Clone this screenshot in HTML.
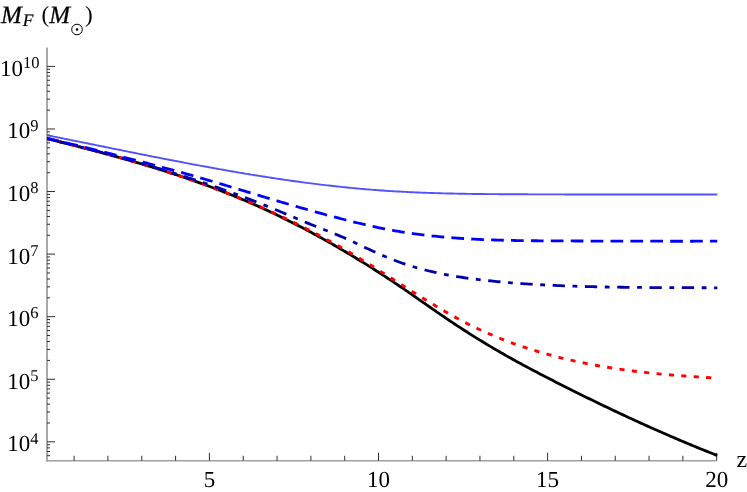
<!DOCTYPE html>
<html lang="en">
<head>
<meta charset="utf-8">
<title>M_F vs z</title>
<style>
html,body{margin:0;padding:0;background:#ffffff;}
body{width:747px;height:492px;overflow:hidden;font-family:"Liberation Serif",serif;}
svg{display:block;position:absolute;left:0;top:0;will-change:transform;}
.t text{font-family:"Liberation Serif",serif;text-rendering:geometricPrecision;}
</style>
</head>
<body>
<svg width="747" height="492" viewBox="0 0 747 492">
<rect x="0" y="0" width="747" height="492" fill="#ffffff"/>
<defs><clipPath id="pc"><rect x="46.40" y="40" width="675.60" height="422.65"/></clipPath></defs>
<g stroke="#a0a0a0" stroke-width="1.8" fill="none">
<line x1="47.0" y1="47.5" x2="47.0" y2="461.4"/>
<line x1="46.1" y1="460.65" x2="716.6" y2="460.65" stroke-width="1.55"/>
</g>
<g stroke="#2e2e2e" stroke-width="1.0" fill="none">
<line x1="74.12" y1="460.65" x2="74.12" y2="455.75"/>
<line x1="107.94" y1="460.65" x2="107.94" y2="455.75"/>
<line x1="141.76" y1="460.65" x2="141.76" y2="455.75"/>
<line x1="175.58" y1="460.65" x2="175.58" y2="455.75"/>
<line x1="209.40" y1="460.65" x2="209.40" y2="452.75"/>
<line x1="243.22" y1="460.65" x2="243.22" y2="455.75"/>
<line x1="277.04" y1="460.65" x2="277.04" y2="455.75"/>
<line x1="310.86" y1="460.65" x2="310.86" y2="455.75"/>
<line x1="344.68" y1="460.65" x2="344.68" y2="455.75"/>
<line x1="378.50" y1="460.65" x2="378.50" y2="452.75"/>
<line x1="412.32" y1="460.65" x2="412.32" y2="455.75"/>
<line x1="446.14" y1="460.65" x2="446.14" y2="455.75"/>
<line x1="479.96" y1="460.65" x2="479.96" y2="455.75"/>
<line x1="513.78" y1="460.65" x2="513.78" y2="455.75"/>
<line x1="547.60" y1="460.65" x2="547.60" y2="452.75"/>
<line x1="581.42" y1="460.65" x2="581.42" y2="455.75"/>
<line x1="615.24" y1="460.65" x2="615.24" y2="455.75"/>
<line x1="649.06" y1="460.65" x2="649.06" y2="455.75"/>
<line x1="682.88" y1="460.65" x2="682.88" y2="455.75"/>
<line x1="716.70" y1="460.65" x2="716.70" y2="452.75"/>
<line x1="47.0" y1="455.70" x2="50.00" y2="455.70"/>
<line x1="47.0" y1="451.51" x2="50.00" y2="451.51"/>
<line x1="47.0" y1="447.88" x2="50.00" y2="447.88"/>
<line x1="47.0" y1="444.68" x2="50.00" y2="444.68"/>
<line x1="47.0" y1="441.82" x2="55.00" y2="441.82"/>
<line x1="47.0" y1="422.98" x2="50.00" y2="422.98"/>
<line x1="47.0" y1="411.97" x2="50.00" y2="411.97"/>
<line x1="47.0" y1="404.15" x2="50.00" y2="404.15"/>
<line x1="47.0" y1="398.09" x2="50.00" y2="398.09"/>
<line x1="47.0" y1="393.13" x2="50.00" y2="393.13"/>
<line x1="47.0" y1="388.94" x2="50.00" y2="388.94"/>
<line x1="47.0" y1="385.31" x2="50.00" y2="385.31"/>
<line x1="47.0" y1="382.11" x2="50.00" y2="382.11"/>
<line x1="47.0" y1="379.25" x2="55.00" y2="379.25"/>
<line x1="47.0" y1="360.41" x2="50.00" y2="360.41"/>
<line x1="47.0" y1="349.40" x2="50.00" y2="349.40"/>
<line x1="47.0" y1="341.58" x2="50.00" y2="341.58"/>
<line x1="47.0" y1="335.52" x2="50.00" y2="335.52"/>
<line x1="47.0" y1="330.56" x2="50.00" y2="330.56"/>
<line x1="47.0" y1="326.37" x2="50.00" y2="326.37"/>
<line x1="47.0" y1="322.74" x2="50.00" y2="322.74"/>
<line x1="47.0" y1="319.54" x2="50.00" y2="319.54"/>
<line x1="47.0" y1="316.68" x2="55.00" y2="316.68"/>
<line x1="47.0" y1="297.84" x2="50.00" y2="297.84"/>
<line x1="47.0" y1="286.83" x2="50.00" y2="286.83"/>
<line x1="47.0" y1="279.01" x2="50.00" y2="279.01"/>
<line x1="47.0" y1="272.95" x2="50.00" y2="272.95"/>
<line x1="47.0" y1="267.99" x2="50.00" y2="267.99"/>
<line x1="47.0" y1="263.80" x2="50.00" y2="263.80"/>
<line x1="47.0" y1="260.17" x2="50.00" y2="260.17"/>
<line x1="47.0" y1="256.97" x2="50.00" y2="256.97"/>
<line x1="47.0" y1="254.11" x2="55.00" y2="254.11"/>
<line x1="47.0" y1="235.27" x2="50.00" y2="235.27"/>
<line x1="47.0" y1="224.26" x2="50.00" y2="224.26"/>
<line x1="47.0" y1="216.44" x2="50.00" y2="216.44"/>
<line x1="47.0" y1="210.38" x2="50.00" y2="210.38"/>
<line x1="47.0" y1="205.42" x2="50.00" y2="205.42"/>
<line x1="47.0" y1="201.23" x2="50.00" y2="201.23"/>
<line x1="47.0" y1="197.60" x2="50.00" y2="197.60"/>
<line x1="47.0" y1="194.40" x2="50.00" y2="194.40"/>
<line x1="47.0" y1="191.54" x2="55.00" y2="191.54"/>
<line x1="47.0" y1="172.70" x2="50.00" y2="172.70"/>
<line x1="47.0" y1="161.69" x2="50.00" y2="161.69"/>
<line x1="47.0" y1="153.87" x2="50.00" y2="153.87"/>
<line x1="47.0" y1="147.81" x2="50.00" y2="147.81"/>
<line x1="47.0" y1="142.85" x2="50.00" y2="142.85"/>
<line x1="47.0" y1="138.66" x2="50.00" y2="138.66"/>
<line x1="47.0" y1="135.03" x2="50.00" y2="135.03"/>
<line x1="47.0" y1="131.83" x2="50.00" y2="131.83"/>
<line x1="47.0" y1="128.97" x2="55.00" y2="128.97"/>
<line x1="47.0" y1="110.13" x2="50.00" y2="110.13"/>
<line x1="47.0" y1="99.12" x2="50.00" y2="99.12"/>
<line x1="47.0" y1="91.30" x2="50.00" y2="91.30"/>
<line x1="47.0" y1="85.24" x2="50.00" y2="85.24"/>
<line x1="47.0" y1="80.28" x2="50.00" y2="80.28"/>
<line x1="47.0" y1="76.09" x2="50.00" y2="76.09"/>
<line x1="47.0" y1="72.46" x2="50.00" y2="72.46"/>
<line x1="47.0" y1="69.26" x2="50.00" y2="69.26"/>
<line x1="47.0" y1="66.40" x2="55.00" y2="66.40"/>
</g>
<g fill="none" stroke-linejoin="round" clip-path="url(#pc)">
<path d="M717.30,455.51 L717.00,455.40 L715.00,454.61 L713.00,453.82 L711.00,453.02 L709.00,452.22 L707.00,451.42 L705.00,450.62 L703.00,449.81 L701.00,449.00 L699.00,448.18 L697.00,447.36 L695.00,446.54 L693.00,445.72 L691.00,444.89 L689.00,444.06 L687.00,443.22 L685.00,442.39 L683.00,441.55 L681.00,440.70 L679.00,439.85 L677.00,439.00 L675.00,438.15 L673.00,437.29 L671.00,436.43 L669.00,435.57 L667.00,434.70 L665.00,433.83 L663.00,432.96 L661.00,432.09 L659.00,431.21 L657.00,430.32 L655.00,429.44 L653.00,428.55 L651.00,427.66 L649.00,426.77 L647.00,425.87 L645.00,424.97 L643.00,424.07 L641.00,423.16 L639.00,422.25 L637.00,421.34 L635.00,420.43 L633.00,419.51 L631.00,418.59 L629.00,417.67 L627.00,416.74 L625.00,415.82 L623.00,414.88 L621.00,413.95 L619.00,413.01 L617.00,412.07 L615.00,411.13 L613.00,410.19 L611.00,409.24 L609.00,408.29 L607.00,407.33 L605.00,406.38 L603.00,405.42 L601.00,404.46 L599.00,403.49 L597.00,402.53 L595.00,401.56 L593.00,400.59 L591.00,399.61 L589.00,398.63 L587.00,397.65 L585.00,396.67 L583.00,395.69 L581.00,394.70 L579.00,393.71 L577.00,392.72 L575.00,391.72 L573.00,390.73 L571.00,389.73 L569.00,388.72 L567.00,387.72 L565.00,386.71 L563.00,385.70 L561.00,384.69 L559.00,383.68 L557.00,382.66 L555.00,381.64 L553.00,380.62 L551.00,379.60 L549.00,378.57 L547.00,377.54 L545.00,376.51 L543.00,375.48 L541.00,374.44 L539.00,373.40 L537.00,372.35 L535.00,371.30 L533.00,370.25 L531.00,369.19 L529.00,368.13 L527.00,367.07 L525.00,366.00 L523.00,364.92 L521.00,363.84 L519.00,362.75 L517.00,361.66 L515.00,360.56 L513.00,359.45 L511.00,358.34 L509.00,357.22 L507.00,356.10 L505.00,354.97 L503.00,353.83 L501.00,352.68 L499.00,351.53 L497.00,350.37 L495.00,349.20 L493.00,348.02 L491.00,346.84 L489.00,345.64 L487.00,344.44 L485.00,343.24 L483.00,342.02 L481.00,340.80 L479.00,339.57 L477.00,338.33 L475.00,337.09 L473.00,335.84 L471.00,334.58 L469.00,333.31 L467.00,332.03 L465.00,330.75 L463.00,329.46 L461.00,328.16 L459.00,326.86 L457.00,325.55 L455.00,324.23 L453.00,322.90 L451.00,321.57 L449.00,320.23 L447.00,318.88 L445.00,317.52 L443.00,316.16 L441.00,314.79 L439.00,313.42 L437.00,312.04 L435.00,310.66 L433.00,309.28 L431.00,307.89 L429.00,306.50 L427.00,305.11 L425.00,303.71 L423.00,302.32 L421.00,300.92 L419.00,299.53 L417.00,298.13 L415.00,296.74 L413.00,295.35 L411.00,293.97 L409.00,292.59 L407.00,291.21 L405.00,289.83 L403.00,288.46 L401.00,287.10 L399.00,285.74 L397.00,284.39 L395.00,283.05 L393.00,281.71 L391.00,280.38 L389.00,279.05 L387.00,277.74 L385.00,276.42 L383.00,275.12 L381.00,273.82 L379.00,272.53 L377.00,271.24 L375.00,269.96 L373.00,268.69 L371.00,267.42 L369.00,266.16 L367.00,264.91 L365.00,263.66 L363.00,262.42 L361.00,261.19 L359.00,259.96 L357.00,258.74 L355.00,257.52 L353.00,256.31 L351.00,255.11 L349.00,253.91 L347.00,252.72 L345.00,251.53 L343.00,250.35 L341.00,249.18 L339.00,248.01 L337.00,246.85 L335.00,245.69 L333.00,244.54 L331.00,243.40 L329.00,242.26 L327.00,241.13 L325.00,240.01 L323.00,238.89 L321.00,237.78 L319.00,236.67 L317.00,235.58 L315.00,234.48 L313.00,233.40 L311.00,232.32 L309.00,231.24 L307.00,230.18 L305.00,229.12 L303.00,228.07 L301.00,227.02 L299.00,225.98 L297.00,224.95 L295.00,223.92 L293.00,222.90 L291.00,221.89 L289.00,220.88 L287.00,219.89 L285.00,218.89 L283.00,217.91 L281.00,216.93 L279.00,215.96 L277.00,215.00 L275.00,214.04 L273.00,213.09 L271.00,212.15 L269.00,211.22 L267.00,210.29 L265.00,209.37 L263.00,208.45 L261.00,207.55 L259.00,206.65 L257.00,205.76 L255.00,204.87 L253.00,203.99 L251.00,203.12 L249.00,202.25 L247.00,201.40 L245.00,200.54 L243.00,199.70 L241.00,198.86 L239.00,198.02 L237.00,197.20 L235.00,196.38 L233.00,195.56 L231.00,194.75 L229.00,193.95 L227.00,193.16 L225.00,192.37 L223.00,191.58 L221.00,190.80 L219.00,190.03 L217.00,189.26 L215.00,188.50 L213.00,187.75 L211.00,187.00 L209.00,186.25 L207.00,185.51 L205.00,184.78 L203.00,184.05 L201.00,183.33 L199.00,182.61 L197.00,181.90 L195.00,181.19 L193.00,180.48 L191.00,179.79 L189.00,179.09 L187.00,178.40 L185.00,177.72 L183.00,177.04 L181.00,176.37 L179.00,175.70 L177.00,175.03 L175.00,174.37 L173.00,173.72 L171.00,173.06 L169.00,172.42 L167.00,171.77 L165.00,171.13 L163.00,170.50 L161.00,169.87 L159.00,169.24 L157.00,168.62 L155.00,168.00 L153.00,167.38 L151.00,166.77 L149.00,166.16 L147.00,165.56 L145.00,164.96 L143.00,164.36 L141.00,163.77 L139.00,163.18 L137.00,162.59 L135.00,162.01 L133.00,161.42 L131.00,160.85 L129.00,160.27 L127.00,159.70 L125.00,159.13 L123.00,158.57 L121.00,158.01 L119.00,157.45 L117.00,156.89 L115.00,156.33 L113.00,155.78 L111.00,155.23 L109.00,154.69 L107.00,154.14 L105.00,153.60 L103.00,153.06 L101.00,152.52 L99.00,151.99 L97.00,151.46 L95.00,150.93 L93.00,150.40 L91.00,149.87 L89.00,149.35 L87.00,148.82 L85.00,148.30 L83.00,147.78 L81.00,147.26 L79.00,146.75 L77.00,146.23 L75.00,145.72 L73.00,145.21 L71.00,144.70 L69.00,144.19 L67.00,143.68 L65.00,143.18 L63.00,142.67 L61.00,142.17 L59.00,141.66 L57.00,141.16 L55.00,140.66 L53.00,140.16 L51.00,139.66 L49.00,139.16 L47.00,138.66" stroke="#000000" stroke-width="2.8"/>
<path d="M717.30,378.09 L717.00,378.07 L715.00,377.96 L713.00,377.85 L711.00,377.74 L709.00,377.63 L707.00,377.51 L705.00,377.39 L703.00,377.27 L701.00,377.15 L699.00,377.02 L697.00,376.89 L695.00,376.76 L693.00,376.63 L691.00,376.49 L689.00,376.36 L687.00,376.21 L685.00,376.07 L683.00,375.92 L681.00,375.77 L679.00,375.62 L677.00,375.46 L675.00,375.30 L673.00,375.13 L671.00,374.96 L669.00,374.79 L667.00,374.62 L665.00,374.44 L663.00,374.25 L661.00,374.07 L659.00,373.87 L657.00,373.68 L655.00,373.48 L653.00,373.28 L651.00,373.07 L649.00,372.85 L647.00,372.64 L645.00,372.41 L643.00,372.19 L641.00,371.96 L639.00,371.72 L637.00,371.48 L635.00,371.23 L633.00,370.98 L631.00,370.72 L629.00,370.46 L627.00,370.19 L625.00,369.92 L623.00,369.64 L621.00,369.36 L619.00,369.07 L617.00,368.77 L615.00,368.47 L613.00,368.16 L611.00,367.85 L609.00,367.53 L607.00,367.20 L605.00,366.87 L603.00,366.53 L601.00,366.19 L599.00,365.84 L597.00,365.48 L595.00,365.11 L593.00,364.74 L591.00,364.36 L589.00,363.98 L587.00,363.59 L585.00,363.19 L583.00,362.78 L581.00,362.37 L579.00,361.95 L577.00,361.52 L575.00,361.08 L573.00,360.64 L571.00,360.19 L569.00,359.73 L567.00,359.26 L565.00,358.78 L563.00,358.30 L561.00,357.81 L559.00,357.31 L557.00,356.80 L555.00,356.29 L553.00,355.76 L551.00,355.23 L549.00,354.69 L547.00,354.14 L545.00,353.58 L543.00,353.01 L541.00,352.43 L539.00,351.85 L537.00,351.25 L535.00,350.64 L533.00,350.03 L531.00,349.40 L529.00,348.77 L527.00,348.12 L525.00,347.46 L523.00,346.80 L521.00,346.12 L519.00,345.43 L517.00,344.73 L515.00,344.03 L513.00,343.31 L511.00,342.57 L509.00,341.83 L507.00,341.08 L505.00,340.31 L503.00,339.54 L501.00,338.75 L499.00,337.95 L497.00,337.14 L495.00,336.31 L493.00,335.48 L491.00,334.63 L489.00,333.77 L487.00,332.89 L485.00,332.01 L483.00,331.11 L481.00,330.20 L479.00,329.27 L477.00,328.33 L475.00,327.38 L473.00,326.42 L471.00,325.44 L469.00,324.45 L467.00,323.44 L465.00,322.42 L463.00,321.39 L461.00,320.34 L459.00,319.28 L457.00,318.20 L455.00,317.11 L453.00,316.01 L451.00,314.89 L449.00,313.76 L447.00,312.62 L445.00,311.47 L443.00,310.30 L441.00,309.13 L439.00,307.95 L437.00,306.76 L435.00,305.57 L433.00,304.36 L431.00,303.15 L429.00,301.93 L427.00,300.70 L425.00,299.47 L423.00,298.23 L421.00,296.99 L419.00,295.74 L417.00,294.48 L415.00,293.23 L413.00,291.97 L411.00,290.70 L409.00,289.43 L407.00,288.16 L405.00,286.89 L403.00,285.62 L401.00,284.34 L399.00,283.07 L397.00,281.79 L395.00,280.51 L393.00,279.24 L391.00,277.96 L389.00,276.69 L387.00,275.42 L385.00,274.14 L383.00,272.88 L381.00,271.61 L379.00,270.35 L377.00,269.09 L375.00,267.83 L373.00,266.58 L371.00,265.34 L369.00,264.10 L367.00,262.86 L365.00,261.63 L363.00,260.41 L361.00,259.20 L359.00,257.99 L357.00,256.79 L355.00,255.60 L353.00,254.41 L351.00,253.23 L349.00,252.06 L347.00,250.90 L345.00,249.74 L343.00,248.59 L341.00,247.45 L339.00,246.31 L337.00,245.19 L335.00,244.07 L333.00,242.95 L331.00,241.85 L329.00,240.75 L327.00,239.65 L325.00,238.57 L323.00,237.49 L321.00,236.42 L319.00,235.35 L317.00,234.29 L315.00,233.24 L313.00,232.20 L311.00,231.16 L309.00,230.13 L307.00,229.10 L305.00,228.08 L303.00,227.07 L301.00,226.07 L299.00,225.07 L297.00,224.08 L295.00,223.09 L293.00,222.11 L291.00,221.14 L289.00,220.17 L287.00,219.21 L285.00,218.26 L283.00,217.31 L281.00,216.37 L279.00,215.43 L277.00,214.50 L275.00,213.58 L273.00,212.66 L271.00,211.75 L269.00,210.84 L267.00,209.94 L265.00,209.05 L263.00,208.16 L261.00,207.28 L259.00,206.40 L257.00,205.53 L255.00,204.67 L253.00,203.81 L251.00,202.96 L249.00,202.11 L247.00,201.27 L245.00,200.43 L243.00,199.60 L241.00,198.78 L239.00,197.96 L237.00,197.14 L235.00,196.33 L233.00,195.53 L231.00,194.73 L229.00,193.94 L227.00,193.15 L225.00,192.37 L223.00,191.59 L221.00,190.82 L219.00,190.05 L217.00,189.29 L215.00,188.53 L213.00,187.78 L211.00,187.03 L209.00,186.29 L207.00,185.55 L205.00,184.82 L203.00,184.10 L201.00,183.37 L199.00,182.66 L197.00,181.94 L195.00,181.23 L193.00,180.53 L191.00,179.83 L189.00,179.14 L187.00,178.45 L185.00,177.76 L183.00,177.08 L181.00,176.40 L179.00,175.73 L177.00,175.06 L175.00,174.40 L173.00,173.74 L171.00,173.08 L169.00,172.43 L167.00,171.78 L165.00,171.14 L163.00,170.50 L161.00,169.87 L159.00,169.23 L157.00,168.61 L155.00,167.98 L153.00,167.36 L151.00,166.74 L149.00,166.13 L147.00,165.52 L145.00,164.92 L143.00,164.31 L141.00,163.72 L139.00,163.12 L137.00,162.53 L135.00,161.94 L133.00,161.35 L131.00,160.77 L129.00,160.19 L127.00,159.62 L125.00,159.05 L123.00,158.48 L121.00,157.91 L119.00,157.35 L117.00,156.79 L115.00,156.23 L113.00,155.67 L111.00,155.12 L109.00,154.57 L107.00,154.03 L105.00,153.49 L103.00,152.94 L101.00,152.41 L99.00,151.87 L97.00,151.34 L95.00,150.81 L93.00,150.28 L91.00,149.75 L89.00,149.23 L87.00,148.71 L85.00,148.19 L83.00,147.67 L81.00,147.16 L79.00,146.65 L77.00,146.14 L75.00,145.63 L73.00,145.12 L71.00,144.62 L69.00,144.12 L67.00,143.62 L65.00,143.12 L63.00,142.62 L61.00,142.13 L59.00,141.64 L57.00,141.15 L55.00,140.66 L53.00,140.17 L51.00,139.68 L49.00,139.20 L47.00,138.71" stroke="#ff0000" stroke-width="2.9" stroke-dasharray="5.1 7.34" stroke-dashoffset="6.34"/>
<path d="M717.30,287.80 L717.00,287.80 L715.00,287.79 L713.00,287.78 L711.00,287.77 L709.00,287.77 L707.00,287.76 L705.00,287.75 L703.00,287.74 L701.00,287.73 L699.00,287.73 L697.00,287.72 L695.00,287.71 L693.00,287.71 L691.00,287.70 L689.00,287.69 L687.00,287.69 L685.00,287.68 L683.00,287.67 L681.00,287.67 L679.00,287.66 L677.00,287.65 L675.00,287.65 L673.00,287.64 L671.00,287.63 L669.00,287.62 L667.00,287.62 L665.00,287.61 L663.00,287.60 L661.00,287.59 L659.00,287.58 L657.00,287.57 L655.00,287.56 L653.00,287.54 L651.00,287.53 L649.00,287.52 L647.00,287.51 L645.00,287.49 L643.00,287.47 L641.00,287.46 L639.00,287.44 L637.00,287.42 L635.00,287.40 L633.00,287.38 L631.00,287.36 L629.00,287.34 L627.00,287.32 L625.00,287.29 L623.00,287.27 L621.00,287.24 L619.00,287.21 L617.00,287.18 L615.00,287.15 L613.00,287.12 L611.00,287.09 L609.00,287.05 L607.00,287.02 L605.00,286.98 L603.00,286.94 L601.00,286.90 L599.00,286.86 L597.00,286.82 L595.00,286.77 L593.00,286.72 L591.00,286.67 L589.00,286.62 L587.00,286.57 L585.00,286.52 L583.00,286.46 L581.00,286.40 L579.00,286.34 L577.00,286.28 L575.00,286.21 L573.00,286.15 L571.00,286.08 L569.00,286.01 L567.00,285.94 L565.00,285.86 L563.00,285.78 L561.00,285.70 L559.00,285.62 L557.00,285.54 L555.00,285.45 L553.00,285.36 L551.00,285.27 L549.00,285.17 L547.00,285.08 L545.00,284.98 L543.00,284.88 L541.00,284.77 L539.00,284.66 L537.00,284.55 L535.00,284.44 L533.00,284.32 L531.00,284.20 L529.00,284.08 L527.00,283.95 L525.00,283.82 L523.00,283.68 L521.00,283.54 L519.00,283.40 L517.00,283.26 L515.00,283.11 L513.00,282.95 L511.00,282.79 L509.00,282.63 L507.00,282.46 L505.00,282.29 L503.00,282.12 L501.00,281.94 L499.00,281.75 L497.00,281.56 L495.00,281.37 L493.00,281.17 L491.00,280.96 L489.00,280.76 L487.00,280.54 L485.00,280.32 L483.00,280.10 L481.00,279.86 L479.00,279.63 L477.00,279.39 L475.00,279.14 L473.00,278.88 L471.00,278.62 L469.00,278.35 L467.00,278.08 L465.00,277.79 L463.00,277.50 L461.00,277.20 L459.00,276.89 L457.00,276.58 L455.00,276.25 L453.00,275.91 L451.00,275.57 L449.00,275.21 L447.00,274.84 L445.00,274.46 L443.00,274.07 L441.00,273.67 L439.00,273.26 L437.00,272.83 L435.00,272.40 L433.00,271.95 L431.00,271.48 L429.00,271.00 L427.00,270.51 L425.00,270.00 L423.00,269.48 L421.00,268.95 L419.00,268.40 L417.00,267.83 L415.00,267.25 L413.00,266.65 L411.00,266.04 L409.00,265.40 L407.00,264.75 L405.00,264.09 L403.00,263.40 L401.00,262.70 L399.00,261.98 L397.00,261.24 L395.00,260.48 L393.00,259.71 L391.00,258.92 L389.00,258.11 L387.00,257.29 L385.00,256.46 L383.00,255.61 L381.00,254.75 L379.00,253.87 L377.00,252.99 L375.00,252.09 L373.00,251.18 L371.00,250.27 L369.00,249.34 L367.00,248.41 L365.00,247.47 L363.00,246.52 L361.00,245.57 L359.00,244.61 L357.00,243.66 L355.00,242.71 L353.00,241.76 L351.00,240.84 L349.00,239.93 L347.00,239.03 L345.00,238.15 L343.00,237.29 L341.00,236.44 L339.00,235.61 L337.00,234.78 L335.00,233.97 L333.00,233.16 L331.00,232.36 L329.00,231.57 L327.00,230.78 L325.00,230.00 L323.00,229.21 L321.00,228.43 L319.00,227.65 L317.00,226.86 L315.00,226.07 L313.00,225.27 L311.00,224.47 L309.00,223.66 L307.00,222.85 L305.00,222.02 L303.00,221.20 L301.00,220.36 L299.00,219.52 L297.00,218.68 L295.00,217.83 L293.00,216.99 L291.00,216.14 L289.00,215.29 L287.00,214.45 L285.00,213.60 L283.00,212.76 L281.00,211.92 L279.00,211.08 L277.00,210.25 L275.00,209.43 L273.00,208.61 L271.00,207.79 L269.00,206.98 L267.00,206.17 L265.00,205.37 L263.00,204.57 L261.00,203.78 L259.00,202.99 L257.00,202.20 L255.00,201.42 L253.00,200.65 L251.00,199.88 L249.00,199.11 L247.00,198.35 L245.00,197.59 L243.00,196.84 L241.00,196.09 L239.00,195.34 L237.00,194.60 L235.00,193.86 L233.00,193.13 L231.00,192.40 L229.00,191.67 L227.00,190.95 L225.00,190.23 L223.00,189.52 L221.00,188.81 L219.00,188.10 L217.00,187.40 L215.00,186.70 L213.00,186.01 L211.00,185.32 L209.00,184.63 L207.00,183.95 L205.00,183.27 L203.00,182.60 L201.00,181.92 L199.00,181.25 L197.00,180.59 L195.00,179.93 L193.00,179.27 L191.00,178.61 L189.00,177.96 L187.00,177.32 L185.00,176.67 L183.00,176.03 L181.00,175.39 L179.00,174.76 L177.00,174.13 L175.00,173.50 L173.00,172.87 L171.00,172.25 L169.00,171.63 L167.00,171.02 L165.00,170.40 L163.00,169.80 L161.00,169.19 L159.00,168.59 L157.00,167.98 L155.00,167.39 L153.00,166.79 L151.00,166.20 L149.00,165.61 L147.00,165.02 L145.00,164.44 L143.00,163.86 L141.00,163.28 L139.00,162.71 L137.00,162.13 L135.00,161.56 L133.00,161.00 L131.00,160.43 L129.00,159.87 L127.00,159.31 L125.00,158.75 L123.00,158.20 L121.00,157.64 L119.00,157.09 L117.00,156.54 L115.00,156.00 L113.00,155.45 L111.00,154.91 L109.00,154.37 L107.00,153.84 L105.00,153.30 L103.00,152.77 L101.00,152.24 L99.00,151.71 L97.00,151.18 L95.00,150.66 L93.00,150.14 L91.00,149.62 L89.00,149.10 L87.00,148.58 L85.00,148.07 L83.00,147.55 L81.00,147.04 L79.00,146.53 L77.00,146.03 L75.00,145.52 L73.00,145.02 L71.00,144.51 L69.00,144.01 L67.00,143.51 L65.00,143.01 L63.00,142.52 L61.00,142.02 L59.00,141.53 L57.00,141.04 L55.00,140.55 L53.00,140.06 L51.00,139.57 L49.00,139.08 L47.00,138.60" stroke="#0000aa" stroke-width="2.8" stroke-dasharray="12.3 7.6 4.8 7.6" stroke-dashoffset="9.1"/>
<path d="M717.30,241.19 L717.00,241.19 L715.00,241.19 L713.00,241.20 L711.00,241.20 L709.00,241.21 L707.00,241.21 L705.00,241.21 L703.00,241.21 L701.00,241.22 L699.00,241.22 L697.00,241.22 L695.00,241.22 L693.00,241.23 L691.00,241.23 L689.00,241.23 L687.00,241.23 L685.00,241.23 L683.00,241.23 L681.00,241.23 L679.00,241.23 L677.00,241.23 L675.00,241.23 L673.00,241.23 L671.00,241.23 L669.00,241.23 L667.00,241.23 L665.00,241.22 L663.00,241.22 L661.00,241.22 L659.00,241.22 L657.00,241.22 L655.00,241.21 L653.00,241.21 L651.00,241.21 L649.00,241.21 L647.00,241.20 L645.00,241.20 L643.00,241.19 L641.00,241.19 L639.00,241.19 L637.00,241.18 L635.00,241.18 L633.00,241.17 L631.00,241.17 L629.00,241.16 L627.00,241.16 L625.00,241.15 L623.00,241.15 L621.00,241.14 L619.00,241.14 L617.00,241.13 L615.00,241.12 L613.00,241.12 L611.00,241.11 L609.00,241.11 L607.00,241.10 L605.00,241.09 L603.00,241.09 L601.00,241.08 L599.00,241.07 L597.00,241.06 L595.00,241.06 L593.00,241.05 L591.00,241.04 L589.00,241.03 L587.00,241.03 L585.00,241.02 L583.00,241.01 L581.00,241.00 L579.00,240.99 L577.00,240.98 L575.00,240.98 L573.00,240.97 L571.00,240.96 L569.00,240.95 L567.00,240.94 L565.00,240.93 L563.00,240.92 L561.00,240.91 L559.00,240.90 L557.00,240.89 L555.00,240.88 L553.00,240.87 L551.00,240.86 L549.00,240.85 L547.00,240.84 L545.00,240.83 L543.00,240.82 L541.00,240.80 L539.00,240.79 L537.00,240.77 L535.00,240.75 L533.00,240.73 L531.00,240.71 L529.00,240.69 L527.00,240.67 L525.00,240.65 L523.00,240.62 L521.00,240.59 L519.00,240.56 L517.00,240.53 L515.00,240.49 L513.00,240.46 L511.00,240.42 L509.00,240.38 L507.00,240.33 L505.00,240.28 L503.00,240.23 L501.00,240.18 L499.00,240.13 L497.00,240.07 L495.00,240.01 L493.00,239.94 L491.00,239.87 L489.00,239.80 L487.00,239.73 L485.00,239.65 L483.00,239.57 L481.00,239.48 L479.00,239.39 L477.00,239.30 L475.00,239.20 L473.00,239.10 L471.00,238.99 L469.00,238.88 L467.00,238.76 L465.00,238.64 L463.00,238.52 L461.00,238.39 L459.00,238.26 L457.00,238.12 L455.00,237.97 L453.00,237.82 L451.00,237.67 L449.00,237.51 L447.00,237.34 L445.00,237.17 L443.00,236.99 L441.00,236.81 L439.00,236.62 L437.00,236.43 L435.00,236.23 L433.00,236.02 L431.00,235.81 L429.00,235.59 L427.00,235.37 L425.00,235.13 L423.00,234.90 L421.00,234.65 L419.00,234.40 L417.00,234.14 L415.00,233.87 L413.00,233.60 L411.00,233.32 L409.00,233.03 L407.00,232.74 L405.00,232.44 L403.00,232.13 L401.00,231.81 L399.00,231.48 L397.00,231.15 L395.00,230.81 L393.00,230.46 L391.00,230.10 L389.00,229.73 L387.00,229.36 L385.00,228.97 L383.00,228.58 L381.00,228.18 L379.00,227.77 L377.00,227.35 L375.00,226.93 L373.00,226.49 L371.00,226.05 L369.00,225.60 L367.00,225.14 L365.00,224.68 L363.00,224.21 L361.00,223.73 L359.00,223.25 L357.00,222.76 L355.00,222.27 L353.00,221.78 L351.00,221.28 L349.00,220.78 L347.00,220.27 L345.00,219.76 L343.00,219.25 L341.00,218.73 L339.00,218.21 L337.00,217.69 L335.00,217.16 L333.00,216.64 L331.00,216.10 L329.00,215.57 L327.00,215.03 L325.00,214.49 L323.00,213.95 L321.00,213.40 L319.00,212.86 L317.00,212.30 L315.00,211.75 L313.00,211.20 L311.00,210.64 L309.00,210.08 L307.00,209.51 L305.00,208.95 L303.00,208.38 L301.00,207.81 L299.00,207.24 L297.00,206.67 L295.00,206.09 L293.00,205.51 L291.00,204.93 L289.00,204.35 L287.00,203.77 L285.00,203.19 L283.00,202.60 L281.00,202.01 L279.00,201.42 L277.00,200.83 L275.00,200.24 L273.00,199.64 L271.00,199.05 L269.00,198.45 L267.00,197.85 L265.00,197.26 L263.00,196.66 L261.00,196.05 L259.00,195.45 L257.00,194.85 L255.00,194.24 L253.00,193.64 L251.00,193.03 L249.00,192.43 L247.00,191.82 L245.00,191.21 L243.00,190.61 L241.00,190.00 L239.00,189.39 L237.00,188.79 L235.00,188.18 L233.00,187.57 L231.00,186.97 L229.00,186.37 L227.00,185.76 L225.00,185.16 L223.00,184.56 L221.00,183.96 L219.00,183.36 L217.00,182.77 L215.00,182.17 L213.00,181.58 L211.00,180.99 L209.00,180.40 L207.00,179.81 L205.00,179.23 L203.00,178.65 L201.00,178.07 L199.00,177.49 L197.00,176.92 L195.00,176.34 L193.00,175.77 L191.00,175.21 L189.00,174.64 L187.00,174.08 L185.00,173.52 L183.00,172.96 L181.00,172.40 L179.00,171.85 L177.00,171.30 L175.00,170.74 L173.00,170.20 L171.00,169.65 L169.00,169.10 L167.00,168.56 L165.00,168.02 L163.00,167.48 L161.00,166.94 L159.00,166.41 L157.00,165.87 L155.00,165.34 L153.00,164.81 L151.00,164.28 L149.00,163.75 L147.00,163.22 L145.00,162.70 L143.00,162.18 L141.00,161.65 L139.00,161.13 L137.00,160.61 L135.00,160.09 L133.00,159.58 L131.00,159.06 L129.00,158.55 L127.00,158.03 L125.00,157.52 L123.00,157.01 L121.00,156.50 L119.00,155.99 L117.00,155.48 L115.00,154.98 L113.00,154.47 L111.00,153.96 L109.00,153.46 L107.00,152.96 L105.00,152.45 L103.00,151.95 L101.00,151.45 L99.00,150.95 L97.00,150.45 L95.00,149.95 L93.00,149.45 L91.00,148.95 L89.00,148.45 L87.00,147.96 L85.00,147.46 L83.00,146.96 L81.00,146.47 L79.00,145.97 L77.00,145.48 L75.00,144.98 L73.00,144.49 L71.00,143.99 L69.00,143.50 L67.00,143.00 L65.00,142.51 L63.00,142.01 L61.00,141.52 L59.00,141.03 L57.00,140.53 L55.00,140.04 L53.00,139.54 L51.00,139.05 L49.00,138.55 L47.00,138.06" stroke="#0000ff" stroke-width="2.8" stroke-dasharray="12.7 7.2" stroke-dashoffset="5.4"/>
<path d="M717.30,194.55 L717.00,194.55 L715.00,194.55 L713.00,194.55 L711.00,194.55 L709.00,194.55 L707.00,194.55 L705.00,194.56 L703.00,194.56 L701.00,194.56 L699.00,194.56 L697.00,194.56 L695.00,194.56 L693.00,194.56 L691.00,194.56 L689.00,194.56 L687.00,194.56 L685.00,194.56 L683.00,194.56 L681.00,194.56 L679.00,194.56 L677.00,194.56 L675.00,194.56 L673.00,194.56 L671.00,194.56 L669.00,194.56 L667.00,194.56 L665.00,194.56 L663.00,194.55 L661.00,194.55 L659.00,194.55 L657.00,194.55 L655.00,194.55 L653.00,194.55 L651.00,194.55 L649.00,194.55 L647.00,194.55 L645.00,194.55 L643.00,194.54 L641.00,194.54 L639.00,194.54 L637.00,194.54 L635.00,194.54 L633.00,194.54 L631.00,194.53 L629.00,194.53 L627.00,194.53 L625.00,194.53 L623.00,194.53 L621.00,194.52 L619.00,194.52 L617.00,194.52 L615.00,194.52 L613.00,194.51 L611.00,194.51 L609.00,194.51 L607.00,194.51 L605.00,194.50 L603.00,194.50 L601.00,194.50 L599.00,194.49 L597.00,194.49 L595.00,194.49 L593.00,194.48 L591.00,194.48 L589.00,194.48 L587.00,194.47 L585.00,194.47 L583.00,194.47 L581.00,194.46 L579.00,194.46 L577.00,194.45 L575.00,194.45 L573.00,194.45 L571.00,194.44 L569.00,194.44 L567.00,194.43 L565.00,194.43 L563.00,194.42 L561.00,194.42 L559.00,194.41 L557.00,194.41 L555.00,194.40 L553.00,194.40 L551.00,194.39 L549.00,194.39 L547.00,194.38 L545.00,194.38 L543.00,194.37 L541.00,194.36 L539.00,194.36 L537.00,194.35 L535.00,194.35 L533.00,194.34 L531.00,194.33 L529.00,194.33 L527.00,194.32 L525.00,194.31 L523.00,194.31 L521.00,194.30 L519.00,194.29 L517.00,194.28 L515.00,194.27 L513.00,194.27 L511.00,194.26 L509.00,194.25 L507.00,194.24 L505.00,194.23 L503.00,194.21 L501.00,194.20 L499.00,194.19 L497.00,194.17 L495.00,194.16 L493.00,194.14 L491.00,194.13 L489.00,194.11 L487.00,194.09 L485.00,194.07 L483.00,194.05 L481.00,194.03 L479.00,194.01 L477.00,193.98 L475.00,193.96 L473.00,193.93 L471.00,193.90 L469.00,193.87 L467.00,193.84 L465.00,193.81 L463.00,193.77 L461.00,193.74 L459.00,193.70 L457.00,193.66 L455.00,193.62 L453.00,193.57 L451.00,193.53 L449.00,193.48 L447.00,193.43 L445.00,193.38 L443.00,193.33 L441.00,193.28 L439.00,193.22 L437.00,193.16 L435.00,193.10 L433.00,193.04 L431.00,192.97 L429.00,192.90 L427.00,192.83 L425.00,192.76 L423.00,192.68 L421.00,192.61 L419.00,192.53 L417.00,192.44 L415.00,192.36 L413.00,192.27 L411.00,192.18 L409.00,192.08 L407.00,191.98 L405.00,191.88 L403.00,191.78 L401.00,191.67 L399.00,191.57 L397.00,191.45 L395.00,191.34 L393.00,191.22 L391.00,191.09 L389.00,190.97 L387.00,190.84 L385.00,190.71 L383.00,190.57 L381.00,190.43 L379.00,190.28 L377.00,190.14 L375.00,189.99 L373.00,189.83 L371.00,189.67 L369.00,189.51 L367.00,189.35 L365.00,189.18 L363.00,189.00 L361.00,188.83 L359.00,188.65 L357.00,188.47 L355.00,188.28 L353.00,188.09 L351.00,187.90 L349.00,187.70 L347.00,187.50 L345.00,187.30 L343.00,187.09 L341.00,186.88 L339.00,186.67 L337.00,186.45 L335.00,186.24 L333.00,186.01 L331.00,185.79 L329.00,185.56 L327.00,185.33 L325.00,185.10 L323.00,184.86 L321.00,184.62 L319.00,184.38 L317.00,184.13 L315.00,183.88 L313.00,183.63 L311.00,183.38 L309.00,183.12 L307.00,182.86 L305.00,182.60 L303.00,182.33 L301.00,182.06 L299.00,181.79 L297.00,181.52 L295.00,181.25 L293.00,180.97 L291.00,180.69 L289.00,180.40 L287.00,180.12 L285.00,179.83 L283.00,179.54 L281.00,179.24 L279.00,178.95 L277.00,178.65 L275.00,178.35 L273.00,178.05 L271.00,177.74 L269.00,177.43 L267.00,177.12 L265.00,176.81 L263.00,176.50 L261.00,176.18 L259.00,175.86 L257.00,175.54 L255.00,175.22 L253.00,174.90 L251.00,174.57 L249.00,174.24 L247.00,173.91 L245.00,173.58 L243.00,173.24 L241.00,172.91 L239.00,172.57 L237.00,172.23 L235.00,171.88 L233.00,171.54 L231.00,171.20 L229.00,170.85 L227.00,170.50 L225.00,170.15 L223.00,169.80 L221.00,169.44 L219.00,169.09 L217.00,168.73 L215.00,168.37 L213.00,168.01 L211.00,167.65 L209.00,167.28 L207.00,166.92 L205.00,166.55 L203.00,166.18 L201.00,165.81 L199.00,165.44 L197.00,165.07 L195.00,164.70 L193.00,164.32 L191.00,163.95 L189.00,163.57 L187.00,163.19 L185.00,162.81 L183.00,162.43 L181.00,162.05 L179.00,161.67 L177.00,161.28 L175.00,160.90 L173.00,160.51 L171.00,160.12 L169.00,159.74 L167.00,159.35 L165.00,158.96 L163.00,158.57 L161.00,158.17 L159.00,157.78 L157.00,157.39 L155.00,156.99 L153.00,156.60 L151.00,156.20 L149.00,155.81 L147.00,155.41 L145.00,155.01 L143.00,154.61 L141.00,154.21 L139.00,153.81 L137.00,153.41 L135.00,153.01 L133.00,152.61 L131.00,152.21 L129.00,151.81 L127.00,151.40 L125.00,151.00 L123.00,150.60 L121.00,150.19 L119.00,149.79 L117.00,149.39 L115.00,148.98 L113.00,148.58 L111.00,148.17 L109.00,147.76 L107.00,147.36 L105.00,146.95 L103.00,146.55 L101.00,146.14 L99.00,145.73 L97.00,145.33 L95.00,144.92 L93.00,144.52 L91.00,144.11 L89.00,143.70 L87.00,143.30 L85.00,142.89 L83.00,142.49 L81.00,142.08 L79.00,141.68 L77.00,141.27 L75.00,140.87 L73.00,140.46 L71.00,140.06 L69.00,139.65 L67.00,139.25 L65.00,138.84 L63.00,138.44 L61.00,138.04 L59.00,137.64 L57.00,137.24 L55.00,136.83 L53.00,136.43 L51.00,136.03 L49.00,135.63 L47.00,135.23" stroke="#5252fa" stroke-width="1.9"/>
</g>
<g class="t" fill="#000000">
<text x="209.40" y="487.2" font-size="23" text-anchor="middle">5</text>
<text x="378.50" y="487.2" font-size="23" text-anchor="middle">10</text>
<text x="547.60" y="487.2" font-size="23" text-anchor="middle">15</text>
<text x="716.70" y="487.2" font-size="23" text-anchor="middle">20</text>
<text x="7.35" y="451.32" font-size="23">10</text>
<text x="30.35" y="443.62" font-size="16.5">4</text>
<text x="7.35" y="388.75" font-size="23">10</text>
<text x="30.35" y="381.05" font-size="16.5">5</text>
<text x="7.35" y="326.18" font-size="23">10</text>
<text x="30.35" y="318.48" font-size="16.5">6</text>
<text x="7.35" y="263.61" font-size="23">10</text>
<text x="30.35" y="255.91" font-size="16.5">7</text>
<text x="7.35" y="201.04" font-size="23">10</text>
<text x="30.35" y="193.34" font-size="16.5">8</text>
<text x="7.35" y="138.47" font-size="23">10</text>
<text x="30.35" y="130.77" font-size="16.5">9</text>
<text x="-0.10" y="75.90" font-size="23">10</text>
<text x="22.90" y="68.20" font-size="16.5">10</text>
<text x="736.4" y="466.8" font-size="24">z</text>
<text x="1.0" y="22.5" font-size="25" font-style="italic" stroke="#000" stroke-width="0.25">M</text>
<text x="22.7" y="26.1" font-size="17.5" font-style="italic" stroke="#000" stroke-width="0.2">F</text>
<text x="41.4" y="22.4" font-size="23">(</text>
<text x="49.2" y="22.5" font-size="25" font-style="italic" stroke="#000" stroke-width="0.25">M</text>
<text x="85.0" y="22.4" font-size="23">)</text>
</g>
<circle cx="77.0" cy="29.5" r="5.3" fill="none" stroke="#000" stroke-width="1.0"/>
<circle cx="77.0" cy="29.5" r="1.25" fill="#000"/>
</svg>
</body>
</html>
